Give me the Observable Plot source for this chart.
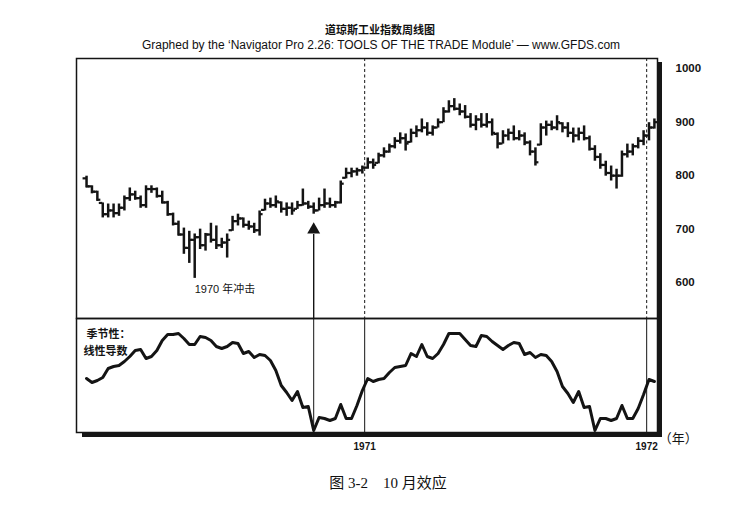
<!DOCTYPE html>
<html>
<head>
<meta charset="utf-8">
<script src="https://cdn.jsdelivr.net/npm/d3@7"></script>
<script src="https://cdn.jsdelivr.net/npm/@observablehq/plot@0.6"></script>
<style>
  html, body { margin: 0; padding: 0; background: #fff; }
  #c { position: relative; width: 752px; height: 513px; overflow: hidden; background: #fff;
       font-family: "Liberation Sans", Arial, "Noto Sans CJK SC", sans-serif; color: #111; }
  #c svg { position: absolute; left: 0; overflow: visible; }
  .t { position: absolute; text-align: center; white-space: nowrap; }
  .shadow { position: absolute; background: #161616; }
</style>
</head>
<body>
<div id="c">
  <div class="t" style="left:0;width:760px;top:22px;font:bold 11px 'Noto Sans CJK SC',sans-serif;line-height:14px;">道琼斯工业指数周线图</div>
  <div class="t" style="left:0;width:762px;top:38px;font:12px 'Liberation Sans',Arial,sans-serif;line-height:14px;">Graphed by the ‘Navigator Pro 2.26: TOOLS OF THE TRADE Module’ — www.GFDS.com</div>
  <div class="t" style="left:0;width:776px;top:473px;font:15px 'Liberation Serif','Noto Sans CJK SC',serif;line-height:20px;">图 3-2&nbsp;&nbsp;&nbsp;&nbsp;10 月效应</div>
</div>
<script>
// ---- data (weekly Dow Jones Industrial bars, Jan 1970 – Jan 1972) ----
const weekStart = Date.UTC(1970, 0, 6);
const highs = [
  799,781,771,749,747,747,747,762,777,771,
  762,781,781,777,771,752,730,715,702,696,
  691,700,692,711,706,683,691,724,728,721,
  715,711,734,756,758,762,751,749,749,752,
  775,752,749,758,775,758,752,790,814,814,
  814,818,833,831,842,852,859,871,880,878,
  887,893,906,899,893,906,927,940,944,934,
  931,916,912,916,916,906,880,884,887,893,
  884,880,865,852,897,902,902,912,899,899,
  889,889,893,874,856,841,827,818,812,846,
  859,859,871,884,899,906];
const lows = [
  777,766,752,721,721,721,724,734,752,754,
  739,739,767,758,747,724,706,687,653,636,
  608,662,659,674,662,664,646,696,706,702,
  698,692,687,734,739,739,730,724,726,737,
  743,737,728,734,739,739,739,747,794,796,
  799,803,812,812,822,833,842,850,859,846,
  861,871,880,874,874,889,899,917,921,912,
  906,889,884,889,889,874,850,859,865,865,
  865,856,837,818,856,874,884,884,880,871,
  861,865,865,846,827,812,799,790,775,797,
  833,837,850,856,865,887];
const opens = [
  795,780,770,749,728,735,730,740,758,765,
  758,745,775,775,762,750,728,710,690,665,
  680,685,670,690,680,670,675,698,715,720,
  708,705,698,736,748,745,750,738,740,738,
  745,748,742,735,745,748,745,750,796,805,
  808,810,815,825,824,838,845,855,865,870,
  863,880,885,890,880,890,900,920,930,925,
  920,910,895,905,895,900,878,860,875,880,
  870,875,862,845,858,890,895,890,898,890,
  880,875,880,870,850,835,820,805,800,800,
  840,845,855,865,875,890];
const closes = [
  780,770,755,728,735,730,740,758,765,758,
  745,775,775,762,750,728,710,690,665,680,
  685,670,690,680,670,675,680,715,720,708,
  705,698,728,748,745,752,738,740,735,745,
  748,742,735,745,748,745,750,785,805,808,
  810,815,825,820,838,845,855,865,870,860,
  880,885,890,880,890,900,920,930,925,920,
  910,895,905,895,900,880,860,875,880,870,
  875,862,845,825,890,895,890,900,890,880,
  875,880,870,850,835,820,805,800,800,840,
  845,855,865,875,890,900];
// seasonal linear-derivative line (unitless index, same weeks)
const seasonal = [
  54,50,52,55,64,66,67,71,76,82,
  83,74,76,82,92,98,98,99,94,88,
  88,96,95,92,86,84,86,90,89,79,
  81,75,78,77,72,62,47,40,32,41,
  25,26,2,15,14,12,14,28,14,14,
  27,42,54,51,53,54,60,65,66,67,
  79,76,88,76,74,79,88,99,99,99,
  93,87,86,97,96,91,87,83,87,90,
  89,78,80,75,78,77,71,61,46,39,
  30,41,25,26,2,14,14,12,14,27,
  14,14,24,38,53,51];
const yearMarks = [new Date(Date.UTC(1971,0,1)), new Date(Date.UTC(1972,0,1))];
const yTicks = [600, 700, 800, 900, 1000];
const arrowDate = new Date(Date.UTC(1970, 9, 27));
const shockDate = new Date(Date.UTC(1970, 4, 26));
const shockLabel = "1970 年冲击";
const seasonLabels = ["季节性：", "线性导数"];

// ---- build tables ----
const DAY = 864e5;
const bars = highs.map((h, i) => ({
  date: new Date(weekStart + i * 7 * DAY),
  high: h, low: lows[i], open: opens[i], close: closes[i]
}));
const season = seasonal.map((v, i) => ({date: new Date(weekStart + i * 7 * DAY), value: v}));
const xDomain = [new Date(Date.UTC(1969, 11, 24)), new Date(Date.UTC(1972, 0, 15))];
const shift = (d, days) => new Date(+d + days * DAY);
const ink = "#141414";
const font = "'Liberation Sans', Arial, 'Noto Sans CJK SC', sans-serif";

const topPlot = Plot.plot({
  width: 752, height: 318,
  marginTop: 58, marginBottom: 0, marginLeft: 76, marginRight: 95,
  style: {background: "transparent", fontFamily: font, color: ink},
  x: {type: "utc", domain: xDomain, axis: null},
  y: {domain: [533, 1019]},
  marks: [
    Plot.ruleX(yearMarks, {stroke: ink, strokeWidth: 1, strokeDasharray: "3,2.5"}),
    Plot.ruleX([arrowDate], {x: d => d, y1: 533, y2: 690, stroke: ink, strokeWidth: 1.4}),
    Plot.dot([arrowDate], {x: d => d, y: 699, symbol: "triangle", r: 4.8, fill: ink, stroke: null}),
    Plot.ruleX(bars, {x: "date", y1: "low", y2: "high", stroke: ink, strokeWidth: 2.5}),
    Plot.ruleY(bars, {y: "open", x1: d => shift(d.date, -4.5), x2: "date", stroke: ink, strokeWidth: 2.2}),
    Plot.ruleY(bars, {y: "close", x1: "date", x2: d => shift(d.date, 4.5), stroke: ink, strokeWidth: 2.2}),
    Plot.text([shockLabel], {x: () => shockDate, y: () => 587, text: d => d, textAnchor: "start",
      fontSize: 11, fontFamily: font, fill: ink}),
    Plot.axisY({anchor: "right", ticks: yTicks, tickSize: 0, tickPadding: 18, label: null,
      tickFormat: d => String(d), fontSize: 11.5, fontWeight: "bold", fill: ink}),
    Plot.frame({stroke: ink, strokeWidth: 1.5})
  ]
});
topPlot.style.top = "0px";

const bottomPlot = Plot.plot({
  width: 752, height: 142,
  marginTop: 0, marginBottom: 28, marginLeft: 76, marginRight: 95,
  style: {background: "transparent", fontFamily: font, color: ink},
  x: {type: "utc", domain: xDomain},
  y: {domain: [0, 114], axis: null},
  marks: [
    Plot.ruleX([arrowDate, ...yearMarks], {x: d => d, stroke: ink, strokeWidth: 1}),
    Plot.line(season, {x: "date", y: "value", stroke: ink, strokeWidth: 3, strokeLinejoin: "round"}),
    Plot.text([seasonLabels[0]], {frameAnchor: "top-left", dx: 10, dy: 12, text: d => d,
      textAnchor: "start", fontSize: 11, fontWeight: "bold", fill: ink}),
    Plot.text([seasonLabels[1]], {frameAnchor: "top-left", dx: 7, dy: 29, text: d => d,
      textAnchor: "start", fontSize: 11, fontWeight: "bold", fill: ink}),
    Plot.axisX({ticks: yearMarks, tickSize: 0, tickPadding: 10, label: null,
      tickFormat: d => String(d.getUTCFullYear()), fontSize: 10, fontWeight: "bold", fill: ink}),
    Plot.text(["（年）"], {x: () => yearMarks[1], frameAnchor: "bottom", dy: 10, dx: 12,
      text: d => d, textAnchor: "start", fontSize: 13, fill: ink}),
    Plot.frame({stroke: ink, strokeWidth: 1.5})
  ]
});
bottomPlot.style.top = "318px";

const c = document.getElementById("c");
c.appendChild(topPlot);
c.appendChild(bottomPlot);
// drop shadow of the chart box
const sr = document.createElement("div");
sr.className = "shadow";
Object.assign(sr.style, {left: "657px", top: "62px", width: "5px", height: "375px"});
const sb = document.createElement("div");
sb.className = "shadow";
Object.assign(sb.style, {left: "82px", top: "432px", width: "580px", height: "5px"});
c.appendChild(sr);
c.appendChild(sb);
</script>
</body>
</html>
